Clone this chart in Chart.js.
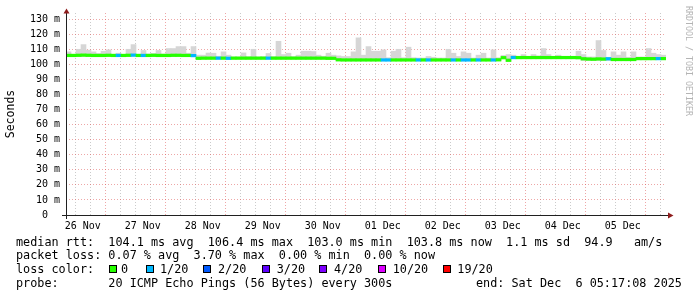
<!DOCTYPE html>
<html><head><meta charset="utf-8">
<script src="https://cdn.jsdelivr.net/npm/chart.js@4.4.1/dist/chart.umd.min.js"></script>
<style>
body{margin:0;background:#fff}
#wrap{position:relative;width:697px;height:297px;overflow:hidden;background:#fff}
canvas{position:absolute;left:0;top:0}
.t{position:absolute;font-family:'DejaVu Sans Mono',monospace;font-size:11.8px;line-height:14px;white-space:pre;color:#000}
.box{position:absolute;width:6px;height:6px;border:1px solid #000}
#rrd{position:absolute;left:684px;top:6px;font-family:'DejaVu Sans Mono',monospace;font-size:8.3px;color:#b4b4b4;writing-mode:vertical-rl;white-space:pre;line-height:9px}
</style></head>
<body><div id="wrap"><canvas id="c" width="697" height="297"></canvas></div>
<script>
// ---- data ----
const RANGE_HOURS = 240;          // 26 Nov 05:17:08 -> 06 Dec 05:17:08
const SLOT_HOURS = 2;
const FIRST_GRID_HOUR = 0.714;    // 26 Nov 06:00 relative to start
const dayLabels = ['26 Nov','27 Nov','28 Nov','29 Nov','30 Nov','01 Dec','02 Dec','03 Dec','04 Dec','05 Dec'];

const median = [
 106.0,106.0,106.1,106.2,106.1,106.0,106.0,106.0,106.1,106.0,
 106.0,106.0,106.1,106.2,106.0,106.0,106.0,106.1,106.0,106.0,
 106.0,106.1,106.1,106.0,106.0,105.9,104.1,104.2,104.2,104.2,
 104.2,104.2,104.1,104.2,104.2,104.2,104.2,104.2,104.2,104.2,
 104.2,104.2,104.2,104.2,104.2,104.2,104.2,104.2,104.2,104.2,
 104.2,104.2,104.1,104.1,103.1,103.0,103.0,103.0,103.0,103.0,
 103.0,103.0,103.0,103.0,103.0,103.0,103.0,103.0,103.0,103.0,
 103.0,103.0,103.0,103.0,103.0,103.0,103.0,103.0,103.0,103.0,
 103.0,103.0,103.0,103.0,103.0,103.0,103.1,104.5,102.8,104.6,
 104.6,104.6,104.6,104.6,104.6,104.6,104.6,104.6,104.6,104.6,
 104.6,104.6,104.5,103.8,103.6,103.5,103.7,103.6,103.8,103.3,
 103.3,103.3,103.3,103.3,103.9,103.9,103.9,103.9,103.9,103.9
];
const smokeHigh = [
 108.4,106.8,110.1,113.2,109.5,108.4,107.3,108.8,109.7,106.8,
 107.5,106.5,110.1,113.2,106.8,109.3,107.0,107.3,109.3,107.0,
 110.6,110.6,111.9,111.9,107.5,111.9,106.2,106.2,107.6,107.5,
 105.5,108.4,106.2,105.0,105.0,107.7,105.2,110.1,105.0,105.2,
 107.3,105.2,115.4,106.6,107.5,105.2,106.2,108.8,108.8,108.6,
 106.2,105.5,107.5,106.2,105.7,105.3,105.3,108.4,117.7,106.2,
 111.9,108.8,108.8,109.7,104.5,108.8,110.1,104.5,111.5,104.5,
 104.3,104.3,105.3,104.8,104.3,104.3,110.1,107.5,105.3,108.4,
 107.5,104.3,106.2,107.5,104.3,109.7,104.5,106.0,106.6,106.2,
 105.3,106.6,105.3,106.6,105.7,110.6,106.6,105.2,106.2,105.3,
 105.3,105.3,108.8,106.6,105.0,105.0,115.9,109.3,104.8,108.4,
 106.2,108.4,104.8,108.4,105.0,105.0,110.6,107.5,106.6,106.2
];
const smokeLow = [
 105.5,105.5,105.5,105.5,105.5,105.5,105.5,105.5,105.5,105.5,
 105.5,105.5,105.5,105.5,105.5,105.5,105.5,105.5,105.5,105.5,
 105.5,105.5,105.5,105.5,105.5,105.4,103.7,103.7,103.7,103.7,
 103.7,103.7,103.7,103.7,103.7,103.7,103.7,103.7,103.7,103.7,
 103.7,103.7,103.7,103.7,103.7,103.7,103.7,103.7,103.7,103.7,
 103.7,103.7,103.6,103.6,102.5,102.5,102.5,102.5,102.5,102.5,
 102.5,102.5,102.5,102.5,102.5,102.5,102.5,102.5,102.5,102.5,
 102.5,102.5,102.5,102.5,102.5,102.5,102.5,102.5,102.5,102.5,
 102.5,102.5,102.5,102.5,102.5,102.5,102.5,104.0,102.3,104.1,
 104.1,104.1,104.1,104.1,104.1,104.1,104.1,104.1,104.1,104.1,
 104.1,104.1,104.0,102.6,102.6,102.6,102.6,102.6,102.6,102.7,
 102.7,102.7,102.7,102.7,103.4,103.4,103.4,103.4,103.4,103.4
];
const lossLevel = [
 0,0,0,0,0,0,0,0,0,0, 1,0,0,1,0,1,0,0,0,0,
 0,0,0,0,0,1,0,0,0,0, 1,0,1,0,0,0,0,0,0,0,
 1,0,0,0,0,0,0,0,0,0, 0,0,0,0,0,0,0,0,0,0,
 0,0,0,1,1,0,0,0,0,0, 1,0,1,0,0,0,0,1,0,1,
 1,0,1,0,0,1,0,0,0,1, 0,0,0,0,0,0,0,0,0,0,
 0,0,0,0,0,0,0,0,1,0, 0,0,0,0,0,0,0,0,1,0
];
const lossColors = ['#26ff00','#00b8ff','#0059ff','#5e00ff','#7e00ff','#dd00ff','#ff0000'];
const lossLabels = ['0','1/20','2/20','3/20','4/20','10/20','19/20'];
const rttStats = ['104.1','106.4','103.0','103.8','1.1','94.9'];
const lossStats = ['0.07','3.70','0.00','0.00'];
const probeText = '20 ICMP Echo Pings (56 Bytes) every 300s';
const endText = 'Sat Dec  6 05:17:08 2025';

// ---- styles ----
const MAJOR = 'rgba(222,80,80,0.5)';
const MINOR = 'rgba(140,140,140,0.45)';
const MONO = "'DejaVu Sans Mono', monospace";
const LINE_HALF = 0.85;

const slotX = median.map((_, i) => SLOT_HOURS * (i + 0.5));

const axisPlugin = {
  id: 'rrdAxes',
  afterDatasetsDraw(chart) {
    const {ctx, chartArea: a} = chart;
    ctx.save();
    ctx.strokeStyle = '#202020'; ctx.lineWidth = 1;
    ctx.beginPath();
    ctx.moveTo(a.left - 4, a.bottom + 0.5); ctx.lineTo(a.right + 2, a.bottom + 0.5);
    ctx.moveTo(a.left + 0.5, a.bottom + 4); ctx.lineTo(a.left + 0.5, a.top);
    ctx.stroke();
    ctx.fillStyle = '#8f1d1d';
    ctx.beginPath();
    ctx.moveTo(a.left + 0.5, a.top - 4.5); ctx.lineTo(a.left - 2.5, a.top + 0.5); ctx.lineTo(a.left + 3.5, a.top + 0.5);
    ctx.closePath(); ctx.fill();
    ctx.beginPath();
    ctx.moveTo(a.right + 7.5, a.bottom + 0.5); ctx.lineTo(a.right + 2, a.bottom - 2.5); ctx.lineTo(a.right + 2, a.bottom + 3.5);
    ctx.closePath(); ctx.fill();
    ctx.restore();
  }
};

new Chart(document.getElementById('c'), {
  type: 'bar',
  data: {
    datasets: [
      {
        label: 'median',
        order: 0,
        grouped: false,
        data: median.map((m, i) => ({x: slotX[i], y: [m - LINE_HALF, m + LINE_HALF]})),
        backgroundColor: lossLevel.map(l => lossColors[l]),
        borderWidth: 0,
        barThickness: 5
      },
      {
        label: 'smoke',
        order: 1,
        grouped: false,
        data: smokeHigh.map((h, i) => ({x: slotX[i], y: [smokeLow[i], h]})),
        backgroundColor: '#d6d6d6',
        borderWidth: 0,
        barThickness: 5
      }
    ]
  },
  options: {
    responsive: false,
    animation: false,
    events: [],
    layout: {padding: {left: 0, right: 31, top: 13, bottom: 0}},
    plugins: {legend: {display: false}, tooltip: {enabled: false}},
    scales: {
      x: {
        type: 'linear', min: 0, max: RANGE_HOURS, offset: false,
        afterBuildTicks(s) {
          const t = [];
          for (let h = FIRST_GRID_HOUR; h < RANGE_HOURS; h += 6) t.push({value: h});
          s.ticks = t;
        },
        ticks: {
          autoSkip: false, maxRotation: 0, padding: 5, color: '#000',
          font: {family: MONO, size: 10},
          callback: (v, i) => (i % 4 === 1 ? dayLabels[(i - 1) / 4] : '')
        },
        grid: {
          drawTicks: false, lineWidth: 1,
          color: c => (c.tick && Math.round((c.tick.value - FIRST_GRID_HOUR) / 6) % 4 === 3 ? MAJOR : MINOR)
        },
        border: {display: false, dash: [1, 2]},
        afterFit(s) { s.height = 82; s.paddingLeft = 0; s.paddingRight = 0; }
      },
      y: {
        type: 'linear', min: 0, max: 134.2,
        afterBuildTicks(s) {
          const t = [];
          for (let v = 0; v <= 130; v += 5) t.push({value: v});
          s.ticks = t;
        },
        ticks: {
          padding: 6, color: '#000',
          font: {family: MONO, size: 10},
          callback: v => (v === 0 ? '0  ' : (v % 10 === 0 ? v + ' m' : ''))
        },
        grid: {
          drawTicks: false, lineWidth: 1,
          color: c => (c.tick && c.tick.value % 10 === 0 ? MAJOR : MINOR)
        },
        border: {display: false, dash: [1, 2]},
        title: {display: true, text: 'Seconds', color: '#000', font: {family: MONO, size: 11.5}, padding: {top: 4, bottom: 0}},
        afterFit(s) { s.width = 66; s.paddingTop = 0; s.paddingBottom = 0; }
      }
    }
  },
  plugins: [axisPlugin]
});

// ---- legend text ----
const wrap = document.getElementById('wrap');
function addText(txt, left, top) {
  const d = document.createElement('div');
  d.className = 't'; d.textContent = txt;
  d.style.left = left + 'px'; d.style.top = top + 'px';
  wrap.appendChild(d);
}
addText(`median rtt:  ${rttStats[0]} ms avg  ${rttStats[1]} ms max  ${rttStats[2]} ms min  ${rttStats[3]} ms now  ${rttStats[4]} ms sd  ${rttStats[5]}   am/s`, 16, 235);
addText(`packet loss: ${lossStats[0]} % avg  ${lossStats[1]} % max  ${lossStats[2]} % min  ${lossStats[3]} % now`, 16, 248.3);
addText('loss color:', 16, 262);
const boxX = [109, 146, 203.3, 261.7, 319.3, 378.3, 442.7];
const labX = [121, 160, 218, 276.7, 334, 392.7, 457.3];
lossColors.forEach((c, i) => {
  const b = document.createElement('div');
  b.className = 'box'; b.style.left = boxX[i] + 'px'; b.style.top = '265px'; b.style.background = c;
  wrap.appendChild(b);
  addText(lossLabels[i], labX[i], 262);
});
addText('probe:       ' + probeText, 16, 275.5);
addText('end: ' + endText, 476, 275.5);
const r = document.createElement('div');
r.id = 'rrd'; r.textContent = 'RRDTOOL / TOBI OETIKER';
wrap.appendChild(r);
</script></body></html>
